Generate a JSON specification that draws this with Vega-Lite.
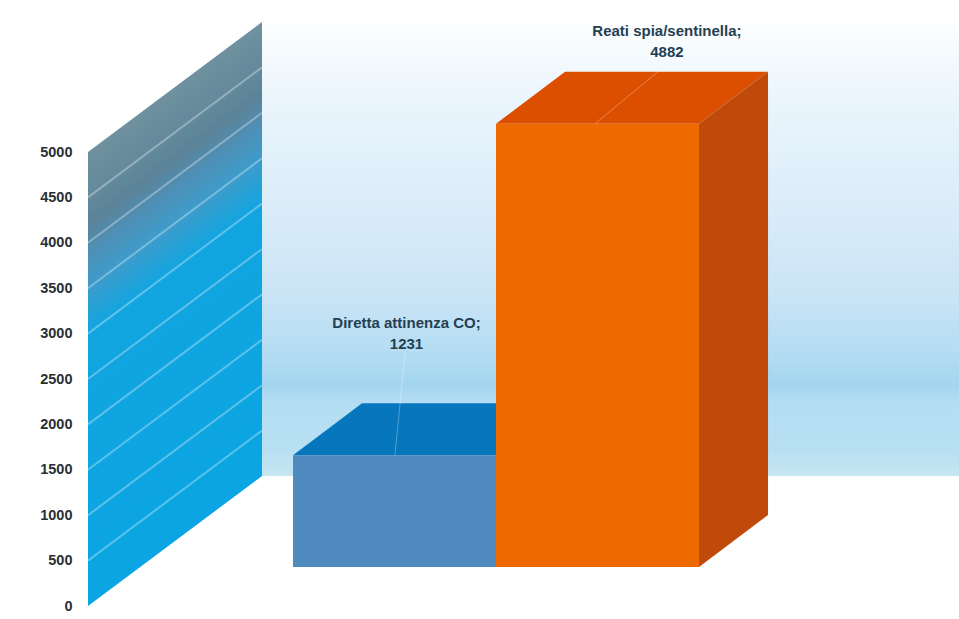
{
  "$schema": "https://vega.github.io/schema/vega-lite/v6.json",
  "width": 879,
  "height": 619,
  "autosize": {"type": "none"},
  "padding": {"left": 80, "top": 0, "right": 0, "bottom": 0},
  "background": "white",
  "config": {"view": {"stroke": null}},
  "datasets": {
    "bars": [
      {"category": "Diretta attinenza CO", "face": "blue front", "value": 1231, "start": 0, "end": 1},
      {"category": "Reati spia/sentinella", "face": "orange front", "value": 4882, "start": 1, "end": 2}
    ],
    "faces": [
      {"face": "blue top", "x": 0, "low": 1231, "high": 1231},
      {"face": "blue top", "x": 0.34, "low": 1231, "high": 1804},
      {"face": "blue top", "x": 1, "low": 1231, "high": 1804},
      {"face": "blue top", "x": 1.34, "low": 1804, "high": 1804},
      {"face": "blue side", "x": 1, "low": 0, "high": 1231},
      {"face": "blue side", "x": 1.34, "low": 573, "high": 1804},
      {"face": "orange top", "x": 1, "low": 4882, "high": 4882},
      {"face": "orange top", "x": 1.34, "low": 4882, "high": 5455},
      {"face": "orange top", "x": 2, "low": 4882, "high": 5455},
      {"face": "orange top", "x": 2.34, "low": 5455, "high": 5455},
      {"face": "orange side", "x": 2, "low": 0, "high": 4882},
      {"face": "orange side", "x": 2.34, "low": 573, "high": 5455}
    ],
    "notes": [
      {"label": "Diretta attinenza CO;\n1231", "x": 0.559, "y": 2687, "from": 0.552, "fromY": 2357, "to": 0.502, "toY": 1231},
      {"label": "Reati spia/sentinella;\n4882", "x": 1.842, "y": 5903, "from": 1.808, "fromY": 5474, "to": 1.488, "toY": 4882}
    ],
    "backWall": [
      {"x": -0.1527, "low": 1432, "high": 6432},
      {"x": 3.2808, "low": 1432, "high": 6432}
    ],
    "sideWall": [
      {"x": -1.0099, "low": 0, "high": 5000},
      {"x": -0.1527, "low": 1432, "high": 6432}
    ],
    "grid": [
      {"tick": 500, "x": -1.0099, "y": 500}, {"tick": 500, "x": -0.1527, "y": 1932},
      {"tick": 1000, "x": -1.0099, "y": 1000}, {"tick": 1000, "x": -0.1527, "y": 2432},
      {"tick": 1500, "x": -1.0099, "y": 1500}, {"tick": 1500, "x": -0.1527, "y": 2932},
      {"tick": 2000, "x": -1.0099, "y": 2000}, {"tick": 2000, "x": -0.1527, "y": 3432},
      {"tick": 2500, "x": -1.0099, "y": 2500}, {"tick": 2500, "x": -0.1527, "y": 3932},
      {"tick": 3000, "x": -1.0099, "y": 3000}, {"tick": 3000, "x": -0.1527, "y": 4432},
      {"tick": 3500, "x": -1.0099, "y": 3500}, {"tick": 3500, "x": -0.1527, "y": 4932},
      {"tick": 4000, "x": -1.0099, "y": 4000}, {"tick": 4000, "x": -0.1527, "y": 5432},
      {"tick": 4500, "x": -1.0099, "y": 4500}, {"tick": 4500, "x": -0.1527, "y": 5932}
    ]
  },
  "resolve": {"scale": {"y": "independent"}},
  "layer": [
    {
      "layer": [
        {
          "data": {"name": "backWall"},
          "mark": {
            "type": "area",
            "color": {
              "gradient": "linear", "x1": 0, "y1": 0, "x2": 0, "y2": 1,
              "stops": [
                {"offset": 0, "color": "#fdfeff"},
                {"offset": 0.17, "color": "#eaf5fc"},
                {"offset": 0.39, "color": "#dcedf9"},
                {"offset": 0.61, "color": "#c9e4f6"},
                {"offset": 0.746, "color": "#b0dbf2"},
                {"offset": 0.8, "color": "#a3d5ef"},
                {"offset": 0.834, "color": "#b3ddf2"},
                {"offset": 0.943, "color": "#b8e0f3"},
                {"offset": 1, "color": "#c6e6f2"}
              ]
            }
          },
          "encoding": {
            "x": {"field": "x", "type": "quantitative", "scale": {"domain": [-1.0493, 3.2808], "nice": false, "zero": false}, "axis": null},
            "y": {
              "field": "low", "type": "quantitative",
              "scale": {"domain": [-143, 6674], "nice": false, "zero": false},
              "axis": {
                "title": null, "values": [0, 500, 1000, 1500, 2000, 2500, 3000, 3500, 4000, 4500, 5000],
                "domain": false, "ticks": false, "grid": false, "format": "d",
                "labelFont": "Liberation Sans", "labelFontWeight": "bold", "labelFontSize": 14.5, "labelColor": "#2a2f33", "labelPadding": 8
              }
            },
            "y2": {"field": "high"}
          }
        },
        {
          "data": {"name": "sideWall"},
          "mark": {
            "type": "area",
            "color": {
              "gradient": "linear", "x1": 0, "y1": 0, "x2": 0.2226, "y2": 1,
              "stops": [
                {"offset": 0.212, "color": "#6f919f"},
                {"offset": 0.286, "color": "#63899b"},
                {"offset": 0.33, "color": "#5b8397"},
                {"offset": 0.375, "color": "#4f8fb5"},
                {"offset": 0.434, "color": "#3d9ccb"},
                {"offset": 0.508, "color": "#12a5e0"},
                {"offset": 0.953, "color": "#0aa5e2"}
              ]
            }
          },
          "encoding": {
            "x": {"field": "x", "type": "quantitative"},
            "y": {"field": "low", "type": "quantitative"},
            "y2": {"field": "high"}
          }
        },
        {
          "data": {"name": "grid"},
          "mark": {"type": "line", "color": "#ffffff", "opacity": 0.32, "strokeWidth": 2},
          "encoding": {
            "x": {"field": "x", "type": "quantitative"},
            "y": {"field": "y", "type": "quantitative"},
            "detail": {"field": "tick"}
          }
        }
      ]
    },
    {
      "layer": [
        {
          "data": {"name": "faces"},
          "mark": {"type": "area"},
          "encoding": {
            "x": {"field": "x", "type": "quantitative"},
            "y": {"field": "low", "type": "quantitative", "scale": {"domain": [-573, 6244.5], "nice": false, "zero": false}, "axis": null},
            "y2": {"field": "high"},
            "color": {
              "field": "face", "type": "nominal", "legend": null,
              "scale": {
                "domain": ["blue front", "blue top", "blue side", "orange front", "orange top", "orange side"],
                "range": ["#4f8bbf", "#0676bd", "#05619c", "#ee6a00", "#dd4f00", "#bf4a0a"]
              }
            }
          }
        },
        {
          "data": {"name": "bars"},
          "mark": {"type": "rect"},
          "encoding": {
            "x": {"field": "start", "type": "quantitative"},
            "x2": {"field": "end"},
            "y": {"field": "value", "type": "quantitative", "axis": null},
            "y2": {"datum": 0},
            "color": {"field": "face", "type": "nominal", "legend": null}
          }
        },
        {
          "data": {"name": "notes"},
          "mark": {"type": "rule", "color": "#ffffff", "opacity": 0.3, "strokeWidth": 1},
          "encoding": {
            "x": {"field": "from", "type": "quantitative"},
            "x2": {"field": "to"},
            "y": {"field": "fromY", "type": "quantitative", "axis": null},
            "y2": {"field": "toY"}
          }
        },
        {
          "data": {"name": "notes"},
          "mark": {"type": "text", "font": "Liberation Sans", "fontWeight": "bold", "fontSize": 15, "color": "#243f52", "lineBreak": "\n", "lineHeight": 21, "align": "center", "baseline": "middle"},
          "encoding": {
            "x": {"field": "x", "type": "quantitative"},
            "y": {"field": "y", "type": "quantitative", "axis": null},
            "text": {"field": "label"}
          }
        }
      ]
    }
  ]
}
